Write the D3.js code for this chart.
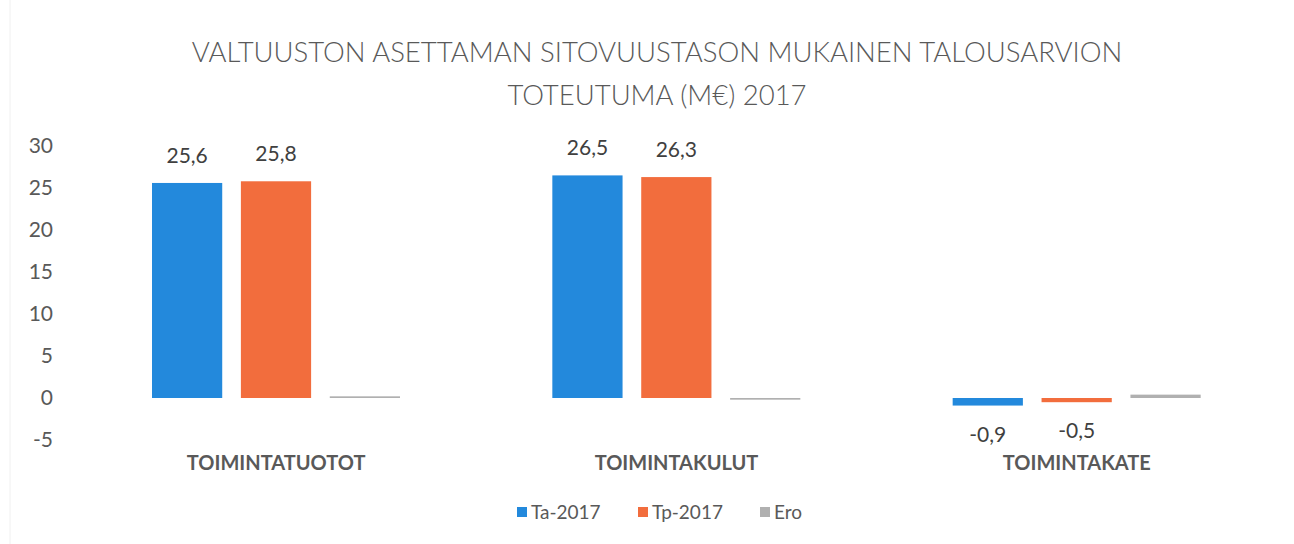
<!DOCTYPE html>
<html>
<head>
<meta charset="utf-8">
<script src="https://cdn.jsdelivr.net/npm/d3@7"></script>
<style>
  body { margin: 0; background: #fff; }
  svg { display: block; font-family: Lato, "Open Sans", sans-serif; }
</style>
</head>
<body>
<svg id="chart" width="1294" height="544"></svg>
<script>
const categories = ["TOIMINTATUOTOT", "TOIMINTAKULUT", "TOIMINTAKATE"];
const seriesNames = ["Ta-2017", "Tp-2017", "Ero"];
const ta2017 = [25.6, 26.5, -0.9];
const tp2017 = [25.8, 26.3, -0.5];
const ero = [0.2, -0.2, 0.4];
const yTicks = [30, 25, 20, 15, 10, 5, 0, -5];
const colors = ["#2389dc", "#f26d3d", "#b0b0b0"];

const series = [ta2017, tp2017, ero];
const showLabels = [true, true, false];
const fmt = v => d3.format(".1f")(v).replace(".", ",").replace("\u2212", "-");

const svg = d3.select("#chart");
const margin = {left: 76, right: 17, top: 146, bottom: 104};
const W = 1294, H = 544;

// faint scan edge on the left
svg.append("line").attr("x1", 10).attr("x2", 10).attr("y1", 0).attr("y2", H)
  .attr("stroke", "#f0f0f0");

svg.append("text").attr("x", 657).attr("y", 62).attr("text-anchor", "middle")
  .attr("font-size", 27.5).attr("fill", "#595959").attr("font-weight", 300)
  .text("VALTUUSTON ASETTAMAN SITOVUUSTASON MUKAINEN TALOUSARVION");
svg.append("text").attr("x", 657).attr("y", 105).attr("text-anchor", "middle")
  .attr("font-size", 27.5).attr("fill", "#595959").attr("font-weight", 300)
  .text("TOTEUTUMA (M€) 2017");

const y = d3.scaleLinear().domain([-5, 30]).range([H - margin.bottom, margin.top]);
const x0 = d3.scaleBand().domain(categories).range([margin.left, W - margin.right]);
const x1 = d3.scaleBand().domain(seriesNames).range([76, 324]).paddingInner(0.21);

const yAxis = svg.append("g").attr("transform", `translate(${margin.left - 22},0)`)
  .call(d3.axisLeft(y).tickValues(yTicks).tickSize(0).tickPadding(1)
    .tickFormat(d => String(d)));
yAxis.select(".domain").remove();
yAxis.selectAll("text").attr("font-size", 21).attr("fill", "#595959")
  .attr("font-family", "Lato, sans-serif");

const groups = svg.selectAll("g.cat").data(categories).join("g")
  .attr("transform", d => `translate(${x0(d)},0)`);

seriesNames.forEach((name, si) => {
  groups.append("rect")
    .attr("x", x1(name))
    .attr("width", x1.bandwidth())
    .attr("y", (d, i) => y(Math.max(0, series[si][i])))
    .attr("height", (d, i) => Math.max(1.5, Math.abs(y(series[si][i]) - y(0))))
    .attr("fill", colors[si]);
  if (showLabels[si]) {
    groups.append("text")
      .attr("x", x1(name) + x1.bandwidth() / 2)
      .attr("y", (d, i) => series[si][i] >= 0 ? y(series[si][i]) - 20 : y(series[si][i]) + 36)
      .attr("text-anchor", "middle").attr("font-size", 21).attr("fill", "#404040")
      .text((d, i) => fmt(series[si][i]));
  }
});

groups.append("text")
  .attr("x", x0.bandwidth() / 2)
  .attr("y", 470)
  .attr("text-anchor", "middle").attr("font-size", 20).attr("font-weight", 700)
  .attr("fill", "#595959")
  .text(d => d);

const legendX = [517, 638, 760];
const legend = svg.append("g");
seriesNames.forEach((name, i) => {
  legend.append("rect").attr("x", legendX[i]).attr("y", 507).attr("width", 10).attr("height", 10)
    .attr("fill", colors[i]);
  legend.append("text").attr("x", legendX[i] + 14).attr("y", 519)
    .attr("font-size", 19).attr("fill", "#595959").text(name);
});
</script>
</body>
</html>
